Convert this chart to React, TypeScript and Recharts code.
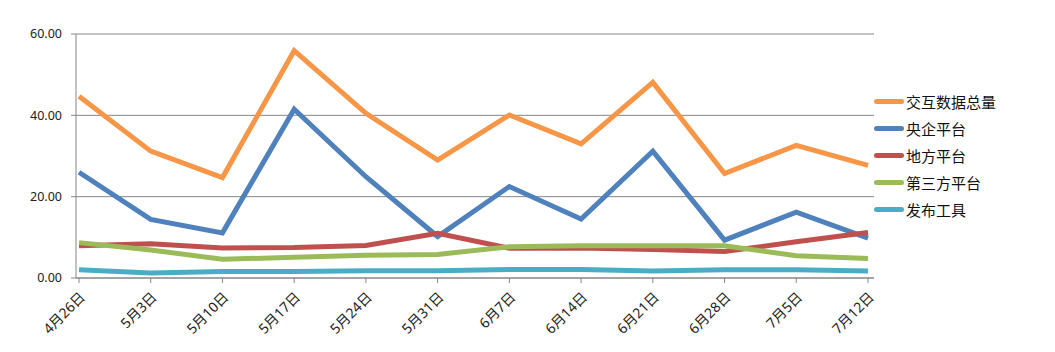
import { LineChart, Line, XAxis, YAxis, CartesianGrid, Legend } from 'recharts';

const dates = ['4月26日', '5月3日', '5月10日', '5月17日', '5月24日', '5月31日', '6月7日', '6月14日', '6月21日', '6月28日', '7月5日', '7月12日'];
const totalData = [44.7, 31.2, 24.7, 55.9, 40.5, 29.0, 40.1, 33.0, 48.1, 25.7, 32.6, 27.7];
const centralData = [26.0, 14.4, 11.1, 41.5, 24.9, 10.2, 22.5, 14.5, 31.2, 9.3, 16.2, 9.8];
const localData = [7.9, 8.4, 7.4, 7.5, 8.0, 11.0, 7.3, 7.4, 7.0, 6.5, 8.9, 11.2];
const thirdData = [8.7, 6.9, 4.6, 5.1, 5.6, 5.8, 7.7, 7.9, 7.9, 7.9, 5.5, 4.8];
const toolData = [2.0, 1.2, 1.6, 1.6, 1.8, 1.8, 2.1, 2.1, 1.7, 2.0, 2.0, 1.7];
const yTicks = [0, 20, 40, 60];

const series = [
  { key: 'total', name: '交互数据总量', color: '#F79646' },
  { key: 'central', name: '央企平台', color: '#4F81BD' },
  { key: 'local', name: '地方平台', color: '#C0504D' },
  { key: 'third', name: '第三方平台', color: '#9BBB59' },
  { key: 'tool', name: '发布工具', color: '#4BACC6' },
];

const data = dates.map((d, i) => ({
  date: d,
  total: totalData[i],
  central: centralData[i],
  local: localData[i],
  third: thirdData[i],
  tool: toolData[i],
}));

const font = '"Noto Sans", "Noto Sans CJK SC", sans-serif';

function DateTick(props: any) {
  const { x, y, payload } = props;
  return (
    <text
      x={x + 7}
      y={y + 13}
      textAnchor="end"
      fontSize={14}
      fontFamily={font}
      fill="#222"
      transform={`rotate(-45, ${x + 7}, ${y + 13})`}
    >
      {payload.value}
    </text>
  );
}

function LegendBox() {
  return (
    <div style={{ fontFamily: font, fontSize: 15, color: '#111' }}>
      {series.map((s) => (
        <div key={s.key} style={{ display: 'flex', alignItems: 'center', height: 27 }}>
          <span style={{ display: 'inline-block', width: 30, height: 5, borderRadius: 3, background: s.color, marginRight: 2 }} />
          <span>{s.name}</span>
        </div>
      ))}
    </div>
  );
}

export default function App() {
  return (
    <div style={{ position: 'absolute', left: 0, top: 0, width: 1055, height: 352, background: '#fff' }}>
      <LineChart width={1055} height={352} data={data} margin={{ top: 34, right: 181, bottom: 0, left: 0 }}>
        <CartesianGrid vertical={false} stroke="#868686" />
        <XAxis
          dataKey="date"
          height={74}
          interval={0}
          padding={{ left: 3, right: 6 }}
          axisLine={{ stroke: '#868686' }}
          tickLine={{ stroke: '#868686' }}
          tickSize={5}
          tick={<DateTick />}
        />
        <YAxis
          width={76}
          domain={[0, 60]}
          ticks={yTicks}
          interval={0}
          tickFormatter={(v: number) => v.toFixed(2)}
          axisLine={{ stroke: '#868686' }}
          tickLine={{ stroke: '#868686' }}
          tickSize={5}
          tickMargin={9}
          tick={{ fontSize: 12.5, fontFamily: font, fill: '#222' }}
        />
        <Legend
          layout="vertical"
          align="center"
          verticalAlign="middle"
          content={<LegendBox />}
          wrapperStyle={{ left: 874, top: 88, width: 180 }}
        />
        {series.map((s) => (
          <Line
            key={s.key}
            dataKey={s.key}
            name={s.name}
            type="linear"
            stroke={s.color}
            strokeWidth={5}
            dot={false}
            isAnimationActive={false}
          />
        ))}
      </LineChart>
    </div>
  );
}
